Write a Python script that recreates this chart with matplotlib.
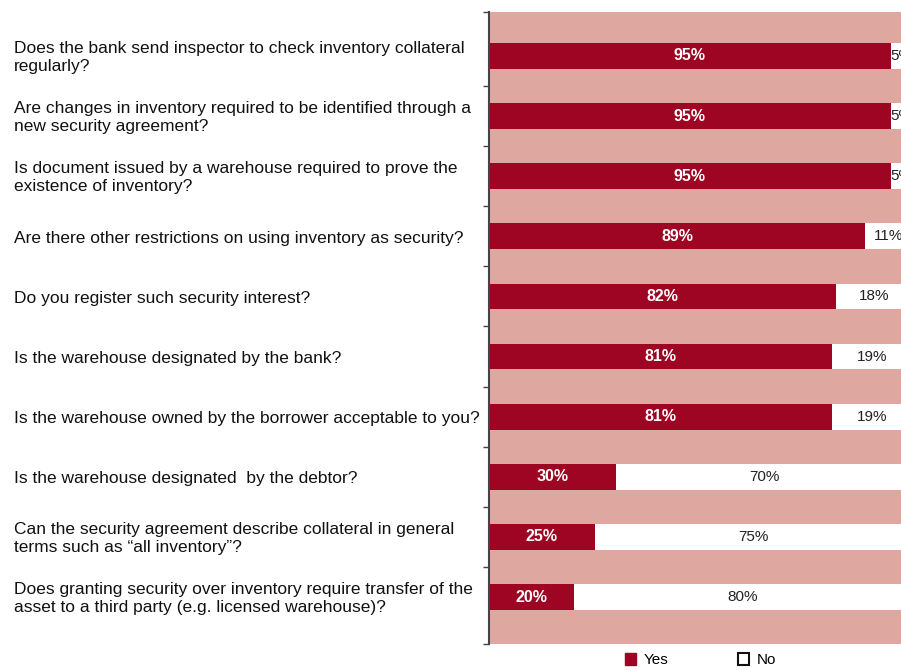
import matplotlib.pyplot as plt
from matplotlib.patches import Patch
from matplotlib.transforms import blended_transform_factory

# survey data
questions = [
    "Does the bank send inspector to check inventory collateral\nregularly?",
    "Are changes in inventory required to be identified through a\nnew security agreement?",
    "Is document issued by a warehouse required to prove the\nexistence of inventory?",
    "Are there other restrictions on using inventory as security?",
    "Do you register such security interest?",
    "Is the warehouse designated by the bank?",
    "Is the warehouse owned by the borrower acceptable to you?",
    "Is the warehouse designated  by the debtor?",
    "Can the security agreement describe collateral in general\nterms such as \u201call inventory\u201d?",
    "Does granting security over inventory require transfer of the\nasset to a third party (e.g. licensed warehouse)?",
]
yes = [95, 95, 95, 89, 82, 81, 81, 30, 25, 20]
no = [5, 5, 5, 11, 18, 19, 19, 70, 75, 80]

red = "#9d0522"
pink = "#dea8a0"

plt.rcParams['font.family'] = ['Liberation Sans', 'DejaVu Sans']

fig = plt.figure(figsize=(9.01, 6.71), dpi=100)
ax = fig.add_axes([489 / 901, 27 / 671, 423 / 901, 632 / 671])
ax.set_facecolor(pink)

pos = list(range(len(questions)))
ax.barh(pos, yes, height=0.43, color=red, edgecolor="none")
ax.barh(pos, no, left=yes, height=0.43, color="white", edgecolor="none")

for i in pos:
    ax.text(yes[i] / 2, i, "%d%%" % yes[i], color="white", fontsize=11.5,
            fontweight="bold", ha="center", va="center")
    ax.text(yes[i] + no[i] / 2, i, "%d%%" % no[i], color="#222222", fontsize=11,
            ha="center", va="center", clip_on=False)

ax.set_xlim(0, 100)
ax.set_ylim(9.78, -0.73)

# question labels, left aligned at figure edge
trans = blended_transform_factory(fig.transFigure, ax.transData)
for i, q in enumerate(questions):
    ax.text(14 / 901, i + 0.03, q, transform=trans, ha="left", va="center",
            fontsize=12.5, color="#111111", linespacing=1.25)

for s in ["top", "right", "bottom"]:
    ax.spines[s].set_visible(False)
ax.spines["left"].set_color("#444444")
ax.spines["left"].set_linewidth(1.5)
ax.set_xticks([])
ax.set_yticks([-0.73] + [i + 0.5 for i in range(9)] + [9.78])
ax.set_yticklabels([])
ax.tick_params(axis="y", direction="out", length=4, width=1, color="#444444")

handles = [Patch(facecolor=red, edgecolor=red, label="Yes"),
           Patch(facecolor="white", edgecolor="#111111", linewidth=1.5, label="No")]
ax.legend(handles=handles, loc="upper center", bbox_to_anchor=(0.5, -0.005), ncol=2,
          frameon=False, fontsize=11, handlelength=0.75, handleheight=0.75,
          handletextpad=0.5, columnspacing=4.5, borderaxespad=0)

fig.savefig("out.png", dpi=100)
